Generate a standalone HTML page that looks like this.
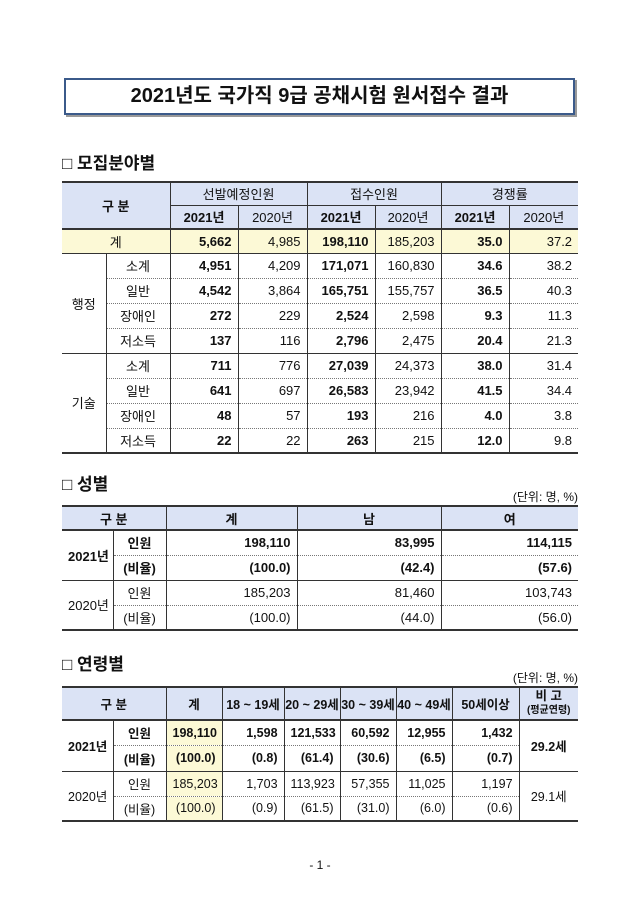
<!DOCTYPE html>
<html><head><meta charset="utf-8"><style>
body{margin:0;width:640px;height:904px;background:#fff;position:relative;font-family:"Liberation Sans","Noto Sans CJK KR",sans-serif;color:#111;}
.title{position:absolute;left:64px;top:78px;width:507px;height:33px;border:2px solid #3b5a8a;box-shadow:2px 2px 0 #999;text-align:center;font-size:20px;font-weight:bold;line-height:33px;}
.h{position:absolute;left:62px;font-size:17px;font-weight:bold;}
.unit{position:absolute;right:62px;font-size:12px;}
table{position:absolute;left:62px;border-collapse:collapse;table-layout:fixed;font-size:13px;}
td{padding:0 6px;white-space:nowrap;overflow:hidden;border-left:1px solid #333;border-bottom:1px dotted #777;}
td:first-child{border-left:none}
.hd td{background:#dbe3f5;text-align:center;font-weight:bold;border-bottom:1px solid #333}
.n{text-align:right}.c{text-align:center}.b{font-weight:bold}
.y{background:#fcf9d6}
.sb td{border-bottom:1px solid #333}
.pg{position:absolute;top:858px;left:0;width:640px;text-align:center;font-size:12px;}
</style></head><body>
<div class="title">2021년도 국가직 9급 공채시험 원서접수 결과</div>
<div class="h" style="top:149px">□ 모집분야별</div>
<table style="top:181px;width:516px;border-top:2px solid #333;border-bottom:2px solid #333">
<col style="width:44px"><col style="width:64px"><col style="width:68px"><col style="width:69px"><col style="width:68px"><col style="width:66px"><col style="width:68px"><col style="width:69px">
<tr class="hd" style="height:23px"><td colspan="2" rowspan="2">구 분</td><td colspan="2" style="font-weight:normal">선발예정인원</td><td colspan="2" style="font-weight:normal">접수인원</td><td colspan="2" style="font-weight:normal">경쟁률</td></tr>
<tr class="hd" style="height:24px"><td style="border-left:1px solid #333">2021년</td><td style="font-weight:normal">2020년</td><td>2021년</td><td style="font-weight:normal">2020년</td><td>2021년</td><td style="font-weight:normal">2020년</td></tr>
<tr class="y sb" style="height:24px;border-top:2px solid #333"><td colspan="2" class="c">계</td><td class="n b">5,662</td><td class="n">4,985</td><td class="n b">198,110</td><td class="n">185,203</td><td class="n b">35.0</td><td class="n">37.2</td></tr>
<tr style="height:25px"><td rowspan="4" class="c" style="border-bottom:1px solid #333">행정</td><td class="c" style="border-left:1px solid #333">소계</td><td class="n b">4,951</td><td class="n">4,209</td><td class="n b">171,071</td><td class="n">160,830</td><td class="n b">34.6</td><td class="n">38.2</td></tr>
<tr style="height:25px"><td class="c" style="border-left:1px solid #333">일반</td><td class="n b">4,542</td><td class="n">3,864</td><td class="n b">165,751</td><td class="n">155,757</td><td class="n b">36.5</td><td class="n">40.3</td></tr>
<tr style="height:25px"><td class="c" style="border-left:1px solid #333">장애인</td><td class="n b">272</td><td class="n">229</td><td class="n b">2,524</td><td class="n">2,598</td><td class="n b">9.3</td><td class="n">11.3</td></tr>
<tr class="sb" style="height:25px"><td class="c" style="border-left:1px solid #333">저소득</td><td class="n b">137</td><td class="n">116</td><td class="n b">2,796</td><td class="n">2,475</td><td class="n b">20.4</td><td class="n">21.3</td></tr>
<tr style="height:25px"><td rowspan="4" class="c" style="border-bottom:none">기술</td><td class="c" style="border-left:1px solid #333">소계</td><td class="n b">711</td><td class="n">776</td><td class="n b">27,039</td><td class="n">24,373</td><td class="n b">38.0</td><td class="n">31.4</td></tr>
<tr style="height:25px"><td class="c" style="border-left:1px solid #333">일반</td><td class="n b">641</td><td class="n">697</td><td class="n b">26,583</td><td class="n">23,942</td><td class="n b">41.5</td><td class="n">34.4</td></tr>
<tr style="height:25px"><td class="c" style="border-left:1px solid #333">장애인</td><td class="n b">48</td><td class="n">57</td><td class="n b">193</td><td class="n">216</td><td class="n b">4.0</td><td class="n">3.8</td></tr>
<tr style="height:25px"><td class="c" style="border-left:1px solid #333;border-bottom:none">저소득</td><td class="n b">22</td><td class="n">22</td><td class="n b">263</td><td class="n">215</td><td class="n b">12.0</td><td class="n">9.8</td></tr>
</table>
<div class="h" style="top:470px">□ 성별</div>
<div class="unit" style="top:488px">(단위: 명, %)</div>
<table style="top:505px;width:516px;border-top:2px solid #333;border-bottom:2px solid #333">
<col style="width:51px"><col style="width:53px"><col style="width:131px"><col style="width:144px"><col style="width:137px">
<tr class="hd" style="height:24px"><td colspan="2">구 분</td><td>계</td><td>남</td><td>여</td></tr>
<tr style="height:25px;border-top:2px solid #333"><td rowspan="2" class="c b" style="border-bottom:1px solid #333">2021년</td><td class="c b" style="border-left:1px solid #333">인원</td><td class="n b">198,110</td><td class="n b">83,995</td><td class="n b">114,115</td></tr>
<tr class="sb" style="height:25px"><td class="c b" style="border-left:1px solid #333">(비율)</td><td class="n b">(100.0)</td><td class="n b">(42.4)</td><td class="n b">(57.6)</td></tr>
<tr style="height:25px"><td rowspan="2" class="c" style="border-bottom:none">2020년</td><td class="c" style="border-left:1px solid #333">인원</td><td class="n">185,203</td><td class="n">81,460</td><td class="n">103,743</td></tr>
<tr style="height:25px"><td class="c" style="border-left:1px solid #333;border-bottom:none">(비율)</td><td class="n">(100.0)</td><td class="n">(44.0)</td><td class="n">(56.0)</td></tr>
</table>
<div class="h" style="top:650px">□ 연령별</div>
<div class="unit" style="top:669px">(단위: 명, %)</div>
<table style="top:686px;width:516px;border-top:2px solid #333;border-bottom:2px solid #333;font-size:12.5px">
<col style="width:51px"><col style="width:53px"><col style="width:56px"><col style="width:62px"><col style="width:56px"><col style="width:56px"><col style="width:56px"><col style="width:67px"><col style="width:59px">
<tr class="hd" style="height:33px"><td colspan="2">구 분</td><td>계</td><td style="padding:0">18 ~ 19세</td><td style="padding:0">20 ~ 29세</td><td style="padding:0">30 ~ 39세</td><td style="padding:0">40 ~ 49세</td><td style="padding:0">50세이상</td><td style="padding:0;line-height:13px">비 고<br><span style="font-size:10px">(평균연령)</span></td></tr>
<tr style="height:25px;border-top:2px solid #333"><td rowspan="2" class="c b" style="border-bottom:1px solid #333">2021년</td><td class="c b" style="border-left:1px solid #333">인원</td><td class="n b y">198,110</td><td class="n b">1,598</td><td class="n b">121,533</td><td class="n b">60,592</td><td class="n b">12,955</td><td class="n b">1,432</td><td rowspan="2" class="c b" style="border-bottom:1px solid #333">29.2세</td></tr>
<tr class="sb" style="height:26px"><td class="c b" style="border-left:1px solid #333">(비율)</td><td class="n b y">(100.0)</td><td class="n b">(0.8)</td><td class="n b">(61.4)</td><td class="n b">(30.6)</td><td class="n b">(6.5)</td><td class="n b">(0.7)</td></tr>
<tr style="height:25px"><td rowspan="2" class="c" style="border-bottom:none">2020년</td><td class="c" style="border-left:1px solid #333">인원</td><td class="n y">185,203</td><td class="n">1,703</td><td class="n">113,923</td><td class="n">57,355</td><td class="n">11,025</td><td class="n">1,197</td><td rowspan="2" class="c" style="border-bottom:none">29.1세</td></tr>
<tr style="height:25px"><td class="c" style="border-left:1px solid #333;border-bottom:none">(비율)</td><td class="n y" style="border-bottom:none">(100.0)</td><td class="n" style="border-bottom:none">(0.9)</td><td class="n" style="border-bottom:none">(61.5)</td><td class="n" style="border-bottom:none">(31.0)</td><td class="n" style="border-bottom:none">(6.0)</td><td class="n" style="border-bottom:none">(0.6)</td></tr>
</table>
<div class="pg">- 1 -</div>
</body></html>
